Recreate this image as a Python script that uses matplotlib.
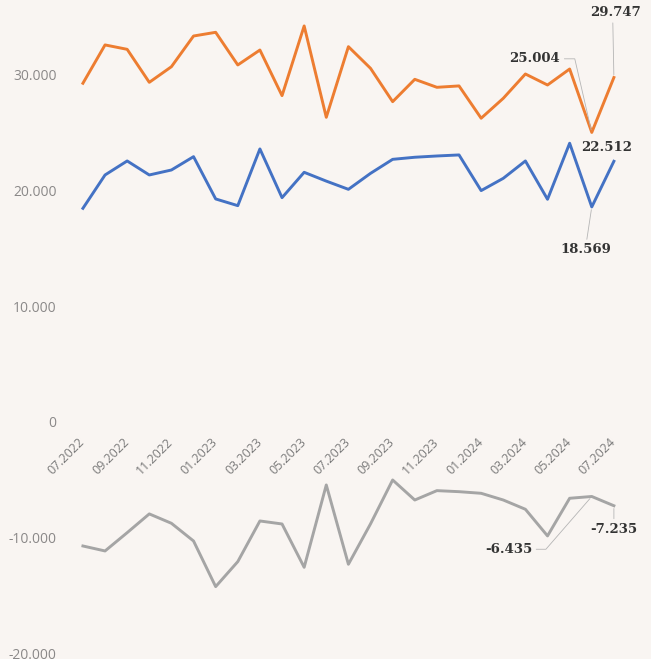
import numpy as np
import matplotlib
matplotlib.use('Agg')
import matplotlib.pyplot as plt

# данные
months = ['07.2022','08.2022','09.2022','10.2022','11.2022','12.2022','01.2023','02.2023',
          '03.2023','04.2023','05.2023','06.2023','07.2023','08.2023','09.2023','10.2023',
          '11.2023','12.2023','01.2024','02.2024','03.2024','04.2024','05.2024','06.2024','07.2024']
orange = [29250, 32560, 32180, 29330, 30680, 33330, 33650, 30830, 32120, 28180, 34200, 26310,
          32410, 30540, 27660, 29590, 28900, 29020, 26230, 27950, 30050, 29100, 30480, 25004, 29747]
blue = [18450, 21330, 22540, 21330, 21760, 22910, 19260, 18680, 23580, 19370, 21560, 20800,
        20090, 21470, 22680, 22860, 22970, 23060, 19980, 21040, 22540, 19230, 24070, 18569, 22512]
gray = [-10710, -11140, -9560, -7940, -8750, -10280, -14220, -12060, -8550, -8810, -12550, -5440,
        -12290, -8800, -5010, -6740, -5930, -6020, -6160, -6740, -7540, -9840, -6590, -6435, -7235]
yticks = [-20000, -10000, 0, 10000, 20000, 30000]

bg = '#f9f5f2'
plt.rc('font', family='Open Sans')
fig = plt.figure(figsize=(6.51, 6.59), dpi=100, facecolor=bg)
ax = fig.add_axes([65/651, 0, 575/651, 1])
ax.set_facecolor(bg)
x = np.arange(len(months))
ax.plot(x, orange, color='#ed7d31', lw=2.1)
ax.plot(x, blue, color='#4472c4', lw=2.1)
ax.plot(x, gray, color='#a5a5a5', lw=2.1)

ax.set_xlim(-0.81, 25.18)
ax.set_ylim(-20470, 36440)
for s in ax.spines.values():
    s.set_visible(False)
ax.spines['bottom'].set_position(('data', 0))

ax.set_yticks(yticks)
ax.set_yticklabels([f'{v:,}'.replace(',', '.') for v in yticks], fontsize=10, color='#8a8888')
ax.set_xticks(x[::2])
ax.set_xticklabels(months[::2], fontsize=9, color='#7a7a7a', rotation=45,
                   ha='right', va='center', rotation_mode='anchor')
ax.tick_params(length=0)
ax.tick_params(axis='y', pad=6)
ax.tick_params(axis='x', pad=13)

# подписи последних точек
lab = dict(fontsize=9.5, fontweight='bold', family='DejaVu Serif', color='#333333',
           textcoords='offset points', ha='center', va='center')
ln = dict(arrowstyle='-', color='#b5b5b5', lw=0.6, shrinkA=1, shrinkB=2)
fmt = lambda v: f'{v:,}'.replace(',', '.')
ax.annotate(fmt(orange[24]), (24, orange[24]), xytext=(1, 47), **lab,
            arrowprops=dict(ln, relpos=(0.45, 0)))
ax.annotate(fmt(orange[23]), (23, orange[23]), xytext=(-41, 53), **lab,
            arrowprops=dict(ln, relpos=(1, 0.5), connectionstyle='angle,angleA=0,angleB=103,rad=0'))
ax.annotate(fmt(blue[24]), (24, blue[24]), xytext=(-5, 10), **lab)
ax.annotate(fmt(blue[23]), (23, blue[23]), xytext=(-4, -31), **lab,
            arrowprops=dict(ln, relpos=(0.5, 1)))
ax.annotate(fmt(gray[24]), (24, gray[24]), xytext=(0, -17), **lab,
            arrowprops=dict(ln, relpos=(0.5, 1)))
ax.annotate(fmt(gray[23]), (23, gray[23]), xytext=(-60, -38), **lab,
            arrowprops=dict(ln, relpos=(1, 0.5), connectionstyle='angle,angleA=0,angleB=49,rad=0'))

plt.savefig('out.png', dpi=100, facecolor=bg)
